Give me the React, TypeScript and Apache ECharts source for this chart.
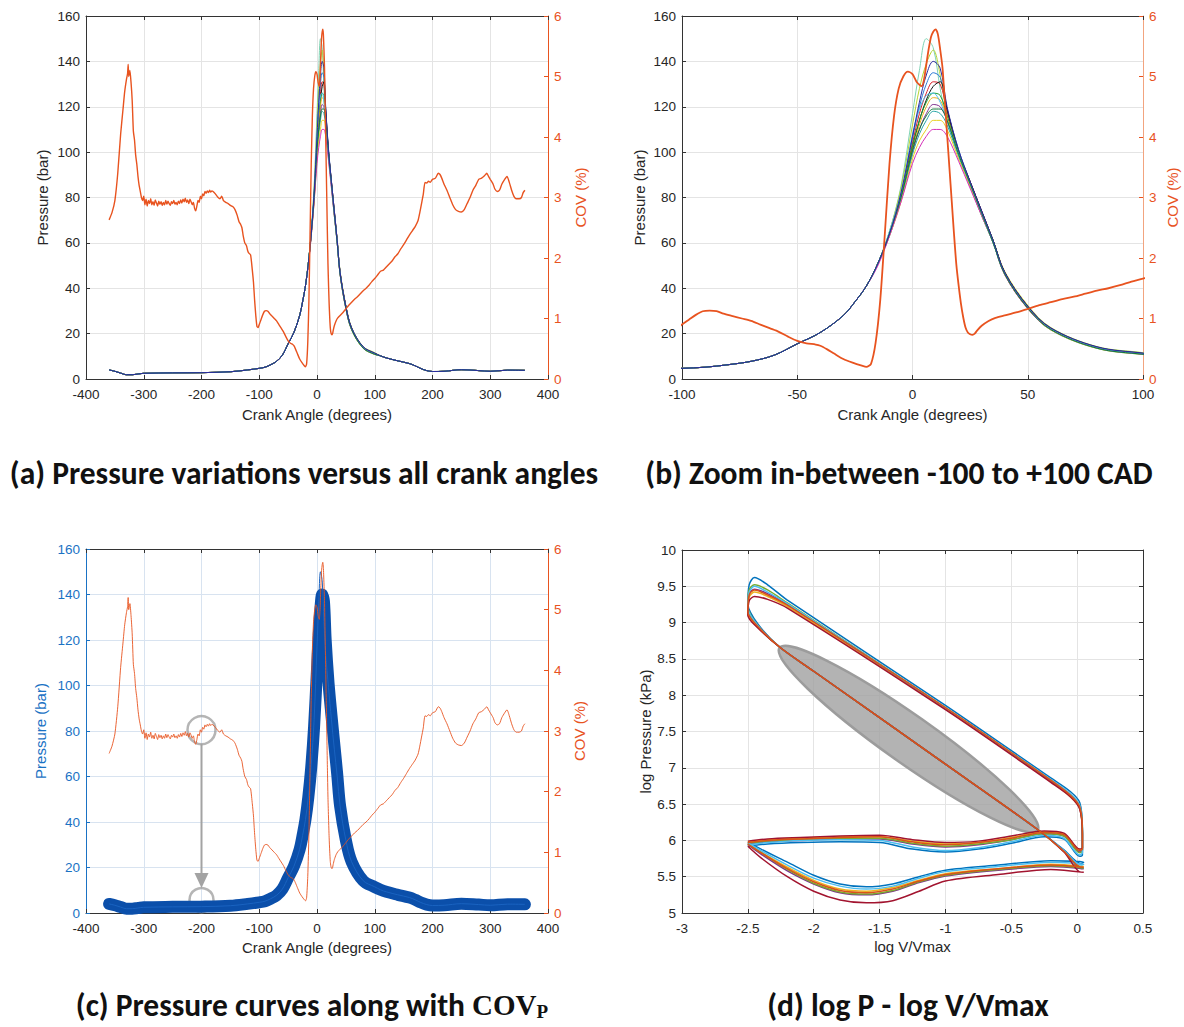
import React, { useEffect, useRef } from "react";
import * as echarts from "echarts";

// ---------------- DATA ----------------
// Crank angle (deg) / pressure (bar) shared by all cycles outside the combustion window
const sharedBeforeAngles = [-360, -350, -340, -330, -320, -310, -300, -250, -200, -150, -120, -100, -90, -80, -70, -60, -50, -40, -30, -25, -20];
const sharedBeforePressure = [4.0, 3.4, 2.6, 1.9, 1.9, 2.2, 2.5, 2.7, 2.8, 3.2, 4.0, 4.7, 5.2, 6.3, 7.8, 10.5, 15.5, 20.5, 28, 34, 41];
const windowAngles = [-15, -10, -5, 0, 3, 6, 9, 12, 15, 20, 25, 30, 35, 40, 50, 60, 80, 100];
const sharedAfterAngles = [110, 120, 140, 160, 170, 180, 190, 200, 220, 250, 280, 300, 330, 360];
const sharedAfterPressure = [10.2, 9.3, 8.0, 6.8, 5.8, 4.6, 3.7, 3.3, 3.4, 4.1, 3.7, 3.4, 3.9, 3.8];

// Per-cycle pressure (bar) within the combustion window
const cycle01 = [51, 65, 85, 117, 136, 150, 146, 128, 114, 99, 85, 72, 60, 47, 32, 22.5, 14.2, 11.5];
const cycle02 = [51, 65, 84, 112, 128, 139, 145, 134, 117, 100, 86, 73, 61, 47.5, 32.5, 22.7, 14.3, 11.6];
const cycle03 = [51, 64, 82, 107, 122, 134, 140, 137, 120, 101, 87, 74, 61, 47, 32, 22.5, 14.2, 11.4];
const cycle04 = [51, 64, 81, 106, 120, 130, 135, 133, 119, 101, 87, 74, 61, 47, 32, 22.4, 14.1, 11.3];
const cycle05 = [51, 64, 81, 104, 117, 126, 131, 130, 118, 100, 87, 74, 61, 47, 32, 22.3, 14.0, 11.2];
const cycle06 = [51, 64, 80, 102, 114, 123, 129, 131, 119, 100, 87, 74, 61, 47, 32, 22.3, 14.0, 11.2];
const cycle07 = [51, 64, 80, 103, 114, 122, 126, 125, 116, 100, 86, 73, 61, 46.5, 31.5, 22, 13.8, 11.0];
const cycle08 = [51, 64, 80, 101, 112, 120, 124, 123, 115, 99, 86, 73, 60, 46.5, 31.5, 22, 13.8, 11.0];
const cycle09 = [51, 64, 79, 100, 110, 117, 121, 120, 114, 99, 86, 73, 60, 46.5, 31.5, 22, 13.8, 11.1];
const cycle10 = [51, 63, 79, 99, 108, 114, 118, 117, 112, 98, 85, 72, 60, 46, 31, 21.6, 13.5, 10.8];
const cycle11 = [51, 63, 78, 97, 105, 110, 114, 114, 110, 97, 85, 72, 60, 46, 31, 21.6, 13.5, 10.8];
const cycle12 = [50, 63, 78, 95, 102, 107, 110, 110, 107, 96, 84, 72, 60, 46, 31, 21.8, 13.7, 10.9];
const cycle13 = [51, 65, 82, 108, 119, 125, 126, 122, 114, 99, 86, 73, 60, 46.5, 31.5, 22, 13.8, 11.0];
const cycle14 = [51, 64, 80, 101, 110, 116, 119, 119, 114, 99, 86, 73, 60, 46.2, 31.2, 21.8, 13.6, 10.9];
const cycleList = [cycle01, cycle02, cycle04, cycle05, cycle06, cycle07, cycle08, cycle09, cycle10, cycle11, cycle12, cycle13, cycle14, cycle03];
const cycleColors = ["#7fd3b4", "#b7d334", "#2e7bd6", "#d9202a", "#111111", "#1fa02f", "#edb120", "#7e2f8e", "#29a6a6", "#e8d020", "#d42fb8", "#4dbeee", "#0e7a3a", "#2b2b9e"];

// COV of pressure (%) vs crank angle (deg)
const covAngles = [-360, -355, -350, -345, -340, -336, -333, -330, -328, -327, -326, -324, -322, -320, -318, -316, -314, -312, -310, -308, -306, -304, -302, -300, -298, -296, -294, -292, -290, -288, -286, -284, -282, -280, -278, -276, -274, -272, -270, -268, -266, -264, -262, -260, -258, -256, -254, -252, -250, -248, -246, -244, -242, -240, -238, -236, -234, -232, -230, -228, -226, -224, -222, -220, -218, -216, -214, -212, -210, -208, -206, -204, -202, -200, -198, -196, -194, -192, -190, -188, -186, -184, -182, -180, -176, -172, -168, -165, -162, -158, -154, -150, -146, -142, -138, -135, -132, -130, -128, -125, -122, -120, -118, -115, -112, -110, -108, -106, -104, -102, -100, -97, -94, -91, -88, -85, -82, -78, -74, -70, -66, -62, -58, -54, -50, -46, -42, -40, -37, -34, -30, -26, -22, -20, -18, -16, -14, -12, -10, -8, -6, -4, -2, 0, 2, 4, 5, 6, 7, 8, 9, 10, 11, 12, 13, 14, 15, 16, 17, 18, 19, 20, 21, 22, 23, 24, 25, 26, 27, 28, 30, 33, 36, 40, 45, 50, 55, 60, 65, 70, 75, 80, 85, 90, 95, 100, 105, 110, 115, 120, 125, 130, 135, 140, 145, 150, 155, 160, 165, 170, 175, 178, 181, 184, 187, 190, 193, 196, 200, 205, 210, 213, 216, 220, 225, 230, 235, 240, 245, 250, 255, 260, 265, 270, 275, 280, 285, 290, 294, 297, 300, 305, 308, 312, 316, 320, 325, 329, 333, 337, 341, 345, 350, 354, 357, 360];
const covValues = [2.63, 2.75, 2.95, 3.4, 4.05, 4.45, 4.75, 4.95, 5.05, 5.2, 5.0, 5.1, 4.9, 4.6, 4.1, 3.95, 3.7, 3.55, 3.35, 3.2, 3.1, 3.0, 2.95, 3.02, 2.88, 2.97, 2.86, 2.95, 2.9, 2.98, 2.88, 2.93, 2.87, 2.96, 2.91, 2.86, 2.94, 2.89, 2.93, 2.87, 2.92, 2.88, 2.95, 2.89, 2.94, 2.9, 2.87, 2.93, 2.9, 2.95, 2.89, 2.92, 2.88, 2.94, 2.9, 2.96, 2.91, 2.97, 2.93, 2.99, 2.92, 2.96, 2.9, 2.97, 2.93, 2.88, 2.92, 2.82, 2.78, 2.86, 2.95, 2.92, 3.02, 2.98, 3.06, 3.03, 3.1, 3.07, 3.11, 3.08, 3.12, 3.09, 3.11, 3.1, 3.06, 3.01, 2.98, 3.02, 2.95, 2.92, 2.9, 2.87, 2.85, 2.8, 2.7, 2.6, 2.55, 2.5, 2.38, 2.25, 2.2, 2.12, 2.08, 2.05, 1.8, 1.6, 1.3, 1.05, 0.87, 0.85, 0.9, 0.98, 1.06, 1.12, 1.13, 1.12, 1.08, 1.04, 1.0, 0.96, 0.9, 0.84, 0.78, 0.7, 0.63, 0.59, 0.57, 0.55, 0.49, 0.42, 0.33, 0.27, 0.22, 0.2, 0.25, 0.6, 1.3, 2.4, 3.55, 4.35, 4.8, 5.0, 5.08, 5.04, 4.9, 4.84, 4.95, 5.2, 5.45, 5.65, 5.74, 5.78, 5.7, 5.45, 5.15, 4.6, 4.05, 3.5, 2.95, 2.4, 1.9, 1.55, 1.25, 1.02, 0.85, 0.77, 0.74, 0.73, 0.75, 0.8, 0.88, 0.96, 1.01, 1.05, 1.1, 1.16, 1.22, 1.27, 1.32, 1.36, 1.41, 1.46, 1.5, 1.55, 1.61, 1.66, 1.72, 1.78, 1.8, 1.85, 1.9, 1.95, 2.02, 2.07, 2.15, 2.22, 2.3, 2.38, 2.45, 2.52, 2.62, 2.75, 2.9, 3.05, 3.25, 3.24, 3.27, 3.25, 3.3, 3.32, 3.4, 3.38, 3.32, 3.22, 3.12, 3.0, 2.88, 2.8, 2.77, 2.76, 2.8, 2.9, 3.0, 3.12, 3.2, 3.3, 3.32, 3.36, 3.4, 3.35, 3.3, 3.22, 3.14, 3.1, 3.12, 3.22, 3.3, 3.35, 3.25, 3.12, 3.02, 2.98, 2.98, 3.0, 3.08, 3.12];

// Panel (c) annotation (data coordinates)
const highlightCircles = [[-200, 80.4], [-200, 5.7]];
const highlightArrow = [-200, 74.3, -200, 11.0];

// Panel (d): log V/Vmax shared by all cycles, log P (kPa) per cycle
const logVolume = [-2.5, -2.4, -2.2, -2.0, -1.8, -1.6, -1.4, -1.2, -1.0, -0.6, -0.2, 0.05, 0.03, -0.1, -0.3, -1.0, -2.0, -2.25, -2.42, -2.5, -2.49, -2.45, -2.35, -2.2, -1.0, -0.2, -0.05, 0.02, 0.04, 0.04, 0.02, -0.1, -0.25, -0.5, -0.75, -1.0, -1.25, -1.5, -1.8, -2.1, -2.35, -2.5];
const loopCycle1 = [5.98, 5.88, 5.7, 5.52, 5.4, 5.36, 5.4, 5.5, 5.59, 5.66, 5.72, 5.7, 5.68, 5.87, 6.15, 7.05, 8.33, 8.65, 8.97, 9.26, 9.52, 9.62, 9.52, 9.31, 7.86, 6.86, 6.67, 6.52, 6.16, 5.8, 5.78, 6.02, 6.05, 5.96, 5.88, 5.84, 5.88, 5.97, 5.98, 5.97, 5.95, 5.92];
const loopCycle2 = [5.95, 5.83, 5.61, 5.43, 5.31, 5.28, 5.33, 5.44, 5.53, 5.61, 5.66, 5.63, 5.63, 5.85, 6.15, 7.05, 8.33, 8.65, 8.94, 9.15, 9.38, 9.45, 9.38, 9.24, 7.83, 6.83, 6.62, 6.46, 6.1, 5.88, 5.86, 6.08, 6.11, 6.03, 5.97, 5.94, 5.98, 6.05, 6.04, 6.02, 6.0, 5.97];
const loopCycle3 = [5.96, 5.84, 5.63, 5.45, 5.33, 5.3, 5.35, 5.45, 5.54, 5.61, 5.67, 5.64, 5.64, 5.85, 6.15, 7.05, 8.33, 8.65, 8.93, 9.12, 9.35, 9.42, 9.36, 9.22, 7.81, 6.81, 6.6, 6.44, 6.08, 5.9, 5.87, 6.09, 6.12, 6.04, 5.97, 5.95, 5.99, 6.05, 6.05, 6.03, 6.01, 5.98];
const loopCycle4 = [5.94, 5.81, 5.58, 5.4, 5.28, 5.25, 5.3, 5.42, 5.51, 5.59, 5.64, 5.61, 5.61, 5.85, 6.15, 7.05, 8.33, 8.65, 8.95, 9.18, 9.4, 9.46, 9.4, 9.25, 7.82, 6.82, 6.62, 6.45, 6.1, 5.87, 5.84, 6.06, 6.09, 6.01, 5.94, 5.91, 5.95, 6.02, 6.02, 6.0, 5.98, 5.95];
const loopCycle5 = [5.95, 5.83, 5.6, 5.41, 5.29, 5.26, 5.31, 5.43, 5.52, 5.6, 5.65, 5.62, 5.62, 5.85, 6.15, 7.05, 8.33, 8.65, 8.95, 9.22, 9.45, 9.52, 9.45, 9.27, 7.83, 6.83, 6.63, 6.47, 6.12, 5.86, 5.83, 6.06, 6.09, 6.01, 5.95, 5.92, 5.96, 6.03, 6.03, 6.01, 5.99, 5.96];
const loopCycle6 = [5.97, 5.86, 5.66, 5.48, 5.37, 5.33, 5.37, 5.48, 5.57, 5.64, 5.7, 5.67, 5.66, 5.86, 6.15, 7.05, 8.33, 8.65, 8.95, 9.2, 9.42, 9.5, 9.42, 9.26, 7.83, 6.84, 6.64, 6.48, 6.12, 5.83, 5.8, 6.03, 6.07, 5.98, 5.9, 5.86, 5.91, 6.0, 6.01, 6.0, 5.97, 5.94];
const loopCycle7 = [5.92, 5.76, 5.5, 5.3, 5.18, 5.14, 5.17, 5.3, 5.44, 5.53, 5.6, 5.56, 5.56, 5.84, 6.15, 7.05, 8.33, 8.65, 8.92, 9.1, 9.3, 9.36, 9.32, 9.2, 7.8, 6.8, 6.6, 6.43, 6.07, 5.9, 5.88, 6.1, 6.13, 6.06, 5.99, 5.97, 6.01, 6.07, 6.06, 6.04, 6.02, 5.99];
const loopList = [loopCycle1, loopCycle3, loopCycle4, loopCycle5, loopCycle6, loopCycle7, loopCycle2];
const loopColors = ["#0072bd", "#edb120", "#7e2f8e", "#77ac30", "#4dbeee", "#a2142f", "#d95319"];
// Highlighted compression stroke (start logV, logP, end logV, logP)
const compressionHighlight = [-2.26, 8.65, -0.3, 6.14];

// ---------------- STYLE ----------------
const FONT = "'Liberation Sans', Arial, Helvetica, sans-serif";
const TITLE_FONT = "Carlito, 'Liberation Sans Narrow', Lato, sans-serif";
const SERIF = "'Liberation Serif', 'DejaVu Serif', serif";
const INK = "#262626";
const AXIS = "#333333";
const ORANGE = "#e8531f";
const BLUE = "#1a72c4";
const TICK_FS = 13.5;
const NAME_FS = 15;

const zip = (xs: number[], ys: number[]) => xs.map((x, i) => [x, ys[i]]);
const cycleTrace = (win: number[]) => [
  ...zip(sharedBeforeAngles, sharedBeforePressure),
  ...zip(windowAngles, win),
  ...zip(sharedAfterAngles, sharedAfterPressure),
];

function xAxisPair(grid: number, min: number, max: number, interval: number, name: string, nameGap: number, split: string) {
  return [
    {
      gridIndex: grid, type: "value", min, max, interval, position: "bottom",
      name, nameLocation: "middle", nameGap,
      nameTextStyle: { fontSize: NAME_FS, color: INK, fontFamily: FONT },
      axisLine: { onZero: false, lineStyle: { color: AXIS } },
      axisTick: { inside: true, length: 4, lineStyle: { color: AXIS } },
      axisLabel: { color: INK, fontSize: TICK_FS, fontFamily: FONT, margin: 8 },
      splitLine: { show: true, lineStyle: { color: split } },
    },
    {
      gridIndex: grid, type: "value", min, max, interval, position: "top",
      axisLine: { onZero: false, lineStyle: { color: AXIS } },
      axisTick: { inside: true, length: 4, lineStyle: { color: AXIS } },
      axisLabel: { show: false }, splitLine: { show: false },
    },
  ];
}

function leftY(grid: number, min: number, max: number, interval: number, name: string, nameGap: number, color: string, split: string) {
  const txt = color === AXIS ? INK : color;
  return {
    gridIndex: grid, type: "value", min, max, interval, position: "left",
    name, nameLocation: "middle", nameGap,
    nameTextStyle: { fontSize: NAME_FS, color: txt, fontFamily: FONT },
    axisLine: { show: true, onZero: false, lineStyle: { color } },
    axisTick: { show: true, inside: true, length: 4, lineStyle: { color } },
    axisLabel: { color: txt, fontSize: TICK_FS, fontFamily: FONT, margin: 6 },
    splitLine: { show: true, lineStyle: { color: split } },
  };
}

function rightY(grid: number, name: string, nameGap: number, lineColor: string, showLabels = true, min = 0, max = 6, interval = 1, color = ORANGE) {
  return {
    gridIndex: grid, type: "value", min, max, interval, position: "right",
    name, nameLocation: "middle", nameGap,
    nameTextStyle: { fontSize: NAME_FS, color, fontFamily: FONT },
    axisLine: { show: true, onZero: false, lineStyle: { color: lineColor } },
    axisTick: { show: true, inside: true, length: 4, lineStyle: { color } },
    axisLabel: { show: showLabels, color, fontSize: TICK_FS, fontFamily: FONT, margin: 6 },
    splitLine: { show: false },
  };
}

export default function App() {
  const ref = useRef<HTMLDivElement>(null);

  useEffect(() => {
    document.body.style.margin = "0";
    const chart = echarts.init(ref.current!, null, { renderer: "svg" });

    const series: any[] = [];
    // (a)
    cycleList.forEach((c, i) => series.push({
      type: "line", xAxisIndex: 0, yAxisIndex: 0, data: cycleTrace(c), showSymbol: false,
      smooth: 0.35, lineStyle: { width: 1, color: cycleColors[i] }, silent: true,
    }));
    series.push({ type: "line", xAxisIndex: 0, yAxisIndex: 1, data: zip(covAngles, covValues), showSymbol: false, smooth: 0.2, lineStyle: { width: 1.4, color: ORANGE }, silent: true });
    // (b)
    cycleList.forEach((c, i) => series.push({
      type: "line", xAxisIndex: 2, yAxisIndex: 2, data: cycleTrace(c), showSymbol: false,
      smooth: 0.35, lineStyle: { width: 1, color: cycleColors[i] }, silent: true,
    }));
    series.push({ type: "line", xAxisIndex: 2, yAxisIndex: 3, data: zip(covAngles, covValues), showSymbol: false, smooth: 0.25, lineStyle: { width: 1.8, color: ORANGE }, silent: true });
    // (c)
    series.push({ type: "line", xAxisIndex: 4, yAxisIndex: 4, data: cycleTrace(cycle03), showSymbol: false, smooth: 0.35, lineStyle: { width: 12, color: "#0b4faa", cap: "round", join: "round" }, silent: true });
    series.push({ type: "line", xAxisIndex: 4, yAxisIndex: 4, data: cycleTrace(cycle01), showSymbol: false, smooth: 0.35, lineStyle: { width: 1, color: "#1a63c0" }, silent: true });
    series.push({ type: "line", xAxisIndex: 4, yAxisIndex: 5, data: zip(covAngles, covValues), showSymbol: false, smooth: 0.2, lineStyle: { width: 0.9, color: ORANGE }, silent: true });
    series.push({
      type: "scatter", xAxisIndex: 4, yAxisIndex: 4, data: highlightCircles, symbol: "circle",
      symbolSize: (v: number[]) => (v[1] > 40 ? 28 : 24),
      itemStyle: { color: "rgba(0,0,0,0)", borderColor: "#a3a3a3", borderWidth: 2.5 }, silent: true,
    });
    series.push({
      type: "custom", xAxisIndex: 4, yAxisIndex: 4, data: [highlightArrow], silent: true,
      renderItem: (_p: any, api: any) => {
        const a = api.coord([api.value(0), api.value(1)]);
        const b = api.coord([api.value(2), api.value(3)]);
        const head = 15;
        return {
          type: "group",
          children: [
            { type: "line", shape: { x1: a[0], y1: a[1], x2: b[0], y2: b[1] - head + 1 }, style: { stroke: "#a3a3a3", lineWidth: 2 } },
            { type: "polygon", shape: { points: [[b[0] - 7, b[1] - head], [b[0] + 7, b[1] - head], [b[0], b[1]]] }, style: { fill: "#a3a3a3" } },
          ],
        };
      },
    });
    // (d)
    loopList.forEach((c, i) => series.push({
      type: "line", xAxisIndex: 6, yAxisIndex: 6, data: zip(logVolume, c), showSymbol: false,
      smooth: 0.3, lineStyle: { width: 1.5, color: loopColors[i] }, silent: true,
    }));
    series.push({
      type: "custom", xAxisIndex: 6, yAxisIndex: 6, data: [compressionHighlight], silent: true,
      renderItem: (_p: any, api: any) => {
        const p1 = api.coord([api.value(0), api.value(1)]);
        const p2 = api.coord([api.value(2), api.value(3)]);
        const dx = p2[0] - p1[0];
        const dy = p2[1] - p1[1];
        const len = Math.sqrt(dx * dx + dy * dy);
        return {
          type: "ellipse", x: (p1[0] + p2[0]) / 2, y: (p1[1] + p2[1]) / 2,
          rotation: -Math.atan2(dy, dx),
          shape: { cx: 0, cy: 0, rx: len / 2, ry: 24 },
          style: { fill: "rgba(160,160,160,0.8)", stroke: "#9c9c9c", lineWidth: 2.5 },
        };
      },
    });

    const titleStyle = (text: string, x: number, y: number, extra: any = {}) => ({
      type: "text", x, y, silent: true,
      style: {
        text, fontFamily: TITLE_FONT, fontWeight: "bold", fontSize: 31.5, fill: "#111",
        align: "center", verticalAlign: "middle", textAlign: "center", textVerticalAlign: "middle", ...extra,
      },
    });

    chart.setOption({
      animation: false,
      backgroundColor: "#ffffff",
      grid: [
        { left: 86, top: 16, width: 462, height: 363 },
        { left: 682, top: 16, width: 461, height: 363 },
        { left: 86, top: 549, width: 462, height: 364 },
        { left: 682, top: 550, width: 461, height: 363 },
      ],
      xAxis: [
        ...xAxisPair(0, -400, 400, 100, "Crank Angle (degrees)", 28, "#e4e4e4"),
        ...xAxisPair(1, -100, 100, 50, "Crank Angle (degrees)", 28, "#e4e4e4"),
        ...xAxisPair(2, -400, 400, 100, "Crank Angle (degrees)", 27, "#d8e3f0"),
        ...xAxisPair(3, -3, 0.5, 0.5, "log V/Vmax", 26, "#e4e4e4"),
      ],
      yAxis: [
        leftY(0, 0, 160, 20, "Pressure (bar)", 36, AXIS, "#e4e4e4"),
        rightY(0, "COV (%)", 25, ORANGE),
        leftY(1, 0, 160, 20, "Pressure (bar)", 35, AXIS, "#e4e4e4"),
        rightY(1, "COV (%)", 22, "#f2a47f"),
        leftY(2, 0, 160, 20, "Pressure (bar)", 38, BLUE, "#d8e3f0"),
        rightY(2, "COV (%)", 24, ORANGE),
        leftY(3, 5, 10, 0.5, "log Pressure (kPa)", 29, AXIS, "#e4e4e4"),
        rightY(3, "", 0, AXIS, false, 5, 10, 0.5, AXIS),
      ],
      series,
      graphic: [
        titleStyle("(a) Pressure variations versus all crank angles", 304, 473),
        titleStyle("(b) Zoom in-between -100 to +100 CAD", 899, 473),
        titleStyle("(c) Pressure curves along with {cov|COV}{sub|P}", 312, 1005, {
          rich: {
            cov: { fontFamily: SERIF, fontWeight: "bold", fontSize: 29, fill: "#111" },
            sub: { fontFamily: SERIF, fontWeight: "bold", fontSize: 19, fill: "#111", padding: [12, 0, 0, 0] },
          },
        }),
        titleStyle("(d) log P - log V/Vmax", 908, 1005),
      ],
    });

    return () => chart.dispose();
  }, []);

  return <div ref={ref} style={{ width: 1184, height: 1027 }} />;
}
